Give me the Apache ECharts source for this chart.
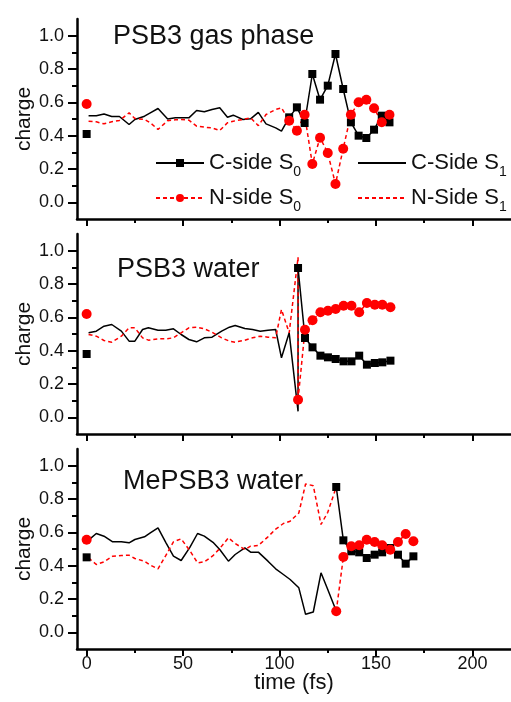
<!DOCTYPE html>
<html>
<head>
<meta charset="utf-8">
<style>
  html, body { margin: 0; padding: 0; background: #fff; }
  #chart { width: 511px; height: 702px; }
</style>
<script src="https://cdn.jsdelivr.net/npm/echarts@6/dist/echarts.min.js"></script>
</head>
<body>
<div id="chart"></div>
<script>
// charge on the C-side / N-side of the molecule, three simulations
const panelTitles = ["PSB3 gas phase", "PSB3 water", "MePSB3 water"];

// S0 values at t = 0, one per panel
const startC = [0.41, 0.38, 0.45];
const startN = [0.59, 0.62, 0.555];

// gas phase
const gasS1Time = [1, 5, 9, 13, 17, 22, 25, 30, 33, 37, 42, 46, 49, 53, 57, 61, 65, 69, 73, 76, 81, 85, 89, 93, 98, 101];
const gasCS1 = [0.52, 0.52, 0.53, 0.515, 0.515, 0.467, 0.497, 0.517, 0.537, 0.563, 0.5, 0.507, 0.507, 0.507, 0.551, 0.543, 0.557, 0.567, 0.511, 0.523, 0.497, 0.501, 0.54, 0.471, 0.447, 0.427];
const gasNS1 = [0.487, 0.483, 0.471, 0.483, 0.491, 0.537, 0.503, 0.497, 0.477, 0.437, 0.49, 0.495, 0.497, 0.493, 0.457, 0.451, 0.447, 0.431, 0.477, 0.487, 0.497, 0.507, 0.46, 0.527, 0.557, 0.567];
const gasS0Time = [105, 109, 113, 117, 121, 125, 129, 133, 137, 141, 145, 149, 153, 157];
const gasCS0 = [0.51, 0.57, 0.476, 0.77, 0.616, 0.7, 0.89, 0.68, 0.48, 0.4, 0.386, 0.436, 0.52, 0.48];
const gasNS0 = [0.49, 0.43, 0.526, 0.23, 0.388, 0.296, 0.11, 0.322, 0.526, 0.6, 0.616, 0.564, 0.48, 0.526];

// PSB3 in water
const watS1Time = [1, 5, 9, 13, 18, 22, 25, 29, 32, 37, 41, 45, 49, 53, 57, 61, 65, 70, 74, 77, 82, 86, 90, 94, 98, 101, 105, 109.6];
const watCS1 = [0.507, 0.517, 0.547, 0.557, 0.517, 0.457, 0.457, 0.527, 0.537, 0.523, 0.523, 0.531, 0.497, 0.467, 0.453, 0.477, 0.481, 0.517, 0.541, 0.551, 0.533, 0.527, 0.517, 0.523, 0.527, 0.357, 0.507, 0.036];
const watNS1 = [0.497, 0.487, 0.461, 0.451, 0.487, 0.537, 0.537, 0.477, 0.463, 0.471, 0.471, 0.477, 0.507, 0.537, 0.541, 0.531, 0.511, 0.477, 0.457, 0.451, 0.463, 0.477, 0.487, 0.481, 0.477, 0.647, 0.507, 0.96];
const watS0Time = [109.6, 113.2, 117.1, 121.2, 125.1, 129.1, 133.2, 137.3, 141.3, 145.3, 149.4, 153.3, 157.5];
const watCS0 = [0.896, 0.476, 0.42, 0.37, 0.36, 0.35, 0.336, 0.336, 0.37, 0.316, 0.326, 0.33, 0.34];
const watNS0 = [0.106, 0.526, 0.582, 0.63, 0.64, 0.65, 0.67, 0.67, 0.63, 0.686, 0.676, 0.676, 0.66];

// MePSB3 in water
const meS1Time = [1, 5, 9, 13.5, 18, 22, 25, 30, 33, 37, 41, 45, 49, 53.5, 57.5, 61, 65.5, 69, 73.5, 77, 82, 85, 89, 94, 98, 102, 105.5, 110, 113.5, 117.5, 121.5, 125, 129.4];
const meCS1 = [0.553, 0.593, 0.577, 0.543, 0.543, 0.537, 0.557, 0.573, 0.597, 0.627, 0.54, 0.457, 0.431, 0.51, 0.593, 0.577, 0.54, 0.497, 0.427, 0.467, 0.507, 0.481, 0.481, 0.427, 0.381, 0.347, 0.317, 0.267, 0.108, 0.122, 0.357, 0.257, 0.128];
const meNS1 = [0.447, 0.407, 0.423, 0.457, 0.461, 0.463, 0.443, 0.427, 0.403, 0.381, 0.46, 0.543, 0.561, 0.49, 0.417, 0.423, 0.46, 0.503, 0.567, 0.533, 0.497, 0.517, 0.521, 0.573, 0.619, 0.653, 0.667, 0.716, 0.89, 0.88, 0.647, 0.72, 0.872];
const meS0Time = [129.4, 133.1, 137.2, 141.3, 145.2, 149.3, 153.2, 157.4, 161.4, 165.4, 169.4];
const meCS0 = [0.872, 0.552, 0.486, 0.48, 0.446, 0.466, 0.48, 0.506, 0.466, 0.412, 0.456];
const meNS0 = [0.126, 0.452, 0.516, 0.522, 0.556, 0.542, 0.522, 0.496, 0.542, 0.59, 0.546];

// ticks
const xMajor = [0, 50, 100, 150, 200];
const xMinor = [25, 75, 125, 175];
const yMajor = [0, 0.2, 0.4, 0.6, 0.8, 1.0];
const yMinor = [0.1, 0.3, 0.5, 0.7, 0.9];

const panels = [
    { s1t: gasS1Time, c1: gasCS1, n1: gasNS1, s0t: gasS0Time, c0: gasCS0, n0: gasNS0, join: true },
    { s1t: watS1Time, c1: watCS1, n1: watNS1, s0t: watS0Time, c0: watCS0, n0: watNS0, join: true },
    { s1t: meS1Time, c1: meCS1, n1: meNS1, s0t: meS0Time, c0: meCS0, n0: meNS0, join: false },
];

const FONT = '"Liberation Sans", Arial, sans-serif';
const TEXT = "#111";
const RED = "#ff0000";
const gridTops = [19, 234, 449];

function zip(xs, ys) {
    return xs.map((x, k) => [x, ys[k]]);
}

const grids = [];
const xAxes = [];
const yAxes = [];
const series = [];
const graphics = [];

panels.forEach((p, i) => {
    grids.push({ left: 77, right: -6, top: gridTops[i], height: 200 });

    const base = { gridIndex: i, type: "value", min: -5, max: 220, splitLine: { show: false } };
    xAxes.push({
        ...base,
        position: "bottom",
        axisLine: { onZero: false, lineStyle: { color: "#000", width: 2.5 } },
        axisTick: { customValues: xMajor, length: 7, lineStyle: { width: 2, color: "#000" } },
        axisLabel: {
            show: i === 2, customValues: xMajor, fontSize: 18, color: TEXT,
            fontFamily: FONT, margin: 6,
        },
        name: i === 2 ? "time (fs)" : "",
        nameLocation: "middle",
        nameGap: 23,
        nameMoveOverlap: false,
        nameTextStyle: { fontSize: 22, color: TEXT, fontFamily: FONT },
    });
    xAxes.push({
        ...base,
        position: "bottom",
        axisLine: { show: false, onZero: false },
        axisTick: { customValues: xMinor, length: 4, lineStyle: { width: 2, color: "#000" } },
        axisLabel: { show: false },
    });

    const ybase = { gridIndex: i, type: "value", min: -0.1, max: 1.1, splitLine: { show: false } };
    yAxes.push({
        ...ybase,
        position: "left",
        axisLine: { onZero: false, lineStyle: { color: "#000", width: 2.5 } },
        axisTick: { customValues: yMajor, length: 9, lineStyle: { width: 2, color: "#000" } },
        axisLabel: {
            customValues: yMajor, fontSize: 18, color: TEXT, fontFamily: FONT, margin: 13,
            formatter: (v) => v.toFixed(1),
        },
        name: "charge",
        nameLocation: "middle",
        nameGap: 42,
        nameMoveOverlap: false,
        nameTextStyle: { fontSize: 21, color: TEXT, fontFamily: FONT },
    });
    yAxes.push({
        ...ybase,
        position: "left",
        axisLine: { show: false, onZero: false },
        axisTick: { customValues: yMinor, length: 5, lineStyle: { width: 2, color: "#000" } },
        axisLabel: { show: false },
    });

    const ax = { xAxisIndex: 2 * i, yAxisIndex: 2 * i };
    // S1 traces run up to the hop; where the plot shows it they join the first S0 point
    const cS1 = zip(p.s1t, p.c1);
    const nS1 = zip(p.s1t, p.n1);
    if (p.join) {
        cS1.push([p.s0t[0], p.c0[0]]);
        nS1.push([p.s0t[0], p.n0[0]]);
    }
    series.push({
        ...ax, name: "C-Side S1", type: "line", symbol: "none", data: cS1,
        lineStyle: { color: "#000", width: 1.5 }, itemStyle: { color: "#000" }, z: 2,
    });
    series.push({
        ...ax, name: "N-Side S1", type: "line", symbol: "none", data: nS1,
        lineStyle: { color: RED, width: 1.5, type: [4, 3] }, itemStyle: { color: RED }, z: 2,
    });
    series.push({
        ...ax, name: "C-side S0", type: "line", symbol: "rect", symbolSize: 8,
        data: [[0, startC[i]], [0, "-"]].concat(zip(p.s0t, p.c0)),
        lineStyle: { color: "#000", width: 1.5 }, itemStyle: { color: "#000" }, z: 3,
    });
    series.push({
        ...ax, name: "N-side S0", type: "line", symbol: "circle", symbolSize: 10,
        data: [[0, startN[i]], [0, "-"]].concat(zip(p.s0t, p.n0)),
        lineStyle: { color: RED, width: 1.5, type: [4, 3] }, itemStyle: { color: RED }, z: 3,
    });
});

const titleLefts = [113, 117, 123];
const titleTops = [23, 256, 468];
panelTitles.forEach((t, i) => {
    graphics.push({
        type: "text", left: titleLefts[i], top: titleTops[i],
        style: { text: t, fontSize: 27, fontFamily: FONT, fill: TEXT },
    });
});

const legendText = {
    fontSize: 22, color: TEXT, fontFamily: FONT,
    rich: { sub: { fontSize: 14, lineHeight: 32, verticalAlign: "bottom", fontFamily: FONT, color: TEXT } },
};
const legendFmt = (name) => name.replace(/S(\d)$/, "S{sub|$1}");
const legendBase = {
    top: 147, orient: "vertical", itemGap: 8, itemWidth: 48, itemHeight: 10,
    formatter: legendFmt, textStyle: legendText,
};

const chart = echarts.init(document.getElementById("chart"), null, { renderer: "canvas" });
chart.setOption({
    animation: false,
    backgroundColor: "#fff",
    grid: grids,
    xAxis: xAxes,
    yAxis: yAxes,
    legend: [
        { ...legendBase, left: 150, data: ["C-side S0", "N-side S0"] },
        {
            ...legendBase, left: 352,
            data: [
                { name: "C-Side S1", itemStyle: { opacity: 0 } },
                { name: "N-Side S1", itemStyle: { opacity: 0 } },
            ],
        },
    ],
    graphic: graphics,
    series,
});
</script>
</body>
</html>
